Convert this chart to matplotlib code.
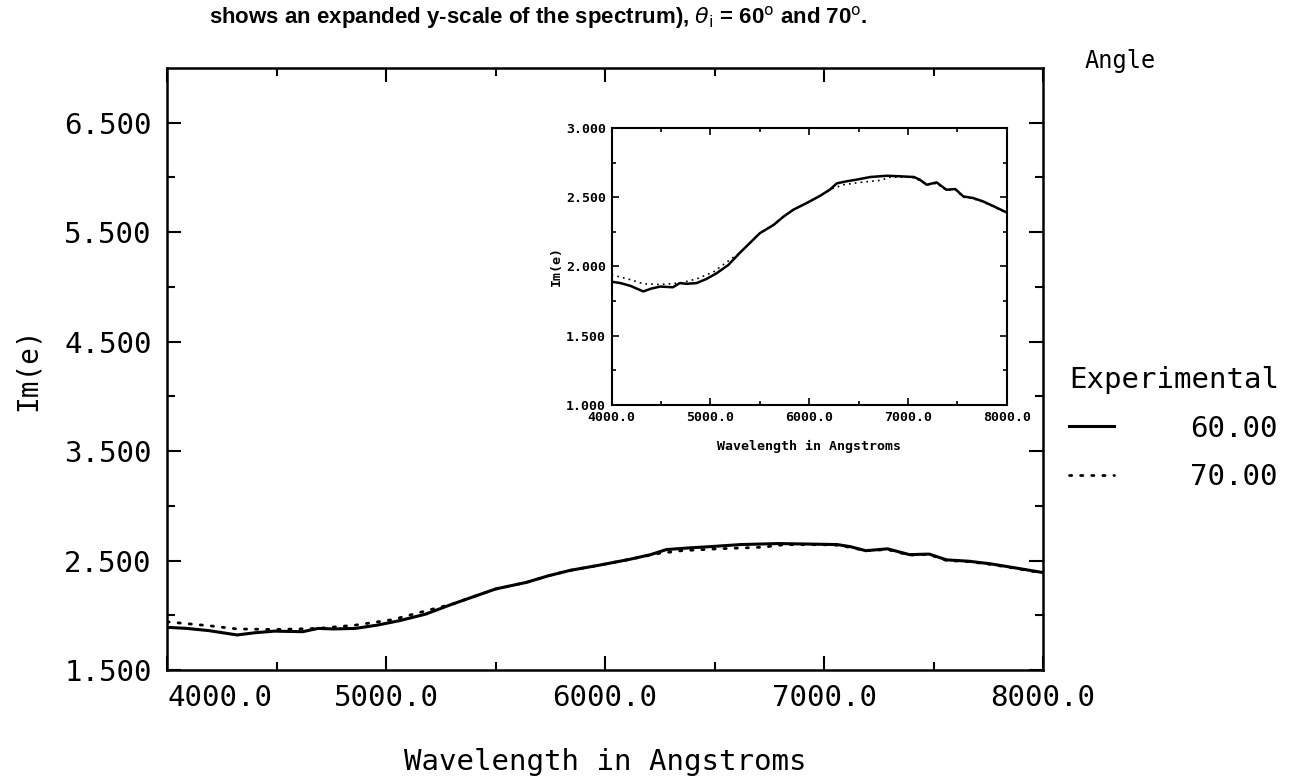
import matplotlib
matplotlib.use("Agg")
import matplotlib.pyplot as plt

# Dati (lunghezza d'onda in Angstrom, Im(e))
wl_60 = [4000, 4090, 4190, 4320, 4400, 4490, 4620, 4690, 4760, 4860, 4960, 5060,
         5180, 5300, 5400, 5500, 5640, 5740, 5840, 5980, 6110, 6210, 6280, 6380,
         6480, 6620, 6790, 6920, 7060, 7120, 7190, 7290, 7390, 7480, 7560, 7660,
         7760, 7870, 8000]
im_60 = [1.89, 1.88, 1.86, 1.82, 1.84, 1.855, 1.85, 1.88, 1.875, 1.88, 1.91, 1.95,
         2.01, 2.10, 2.17, 2.24, 2.30, 2.36, 2.41, 2.46, 2.51, 2.555, 2.60, 2.615,
         2.627, 2.646, 2.655, 2.651, 2.646, 2.627, 2.59, 2.607, 2.554, 2.559, 2.506,
         2.494, 2.47, 2.434, 2.39]

wl_70 = [4000, 4190, 4320, 4490, 4690, 4860, 5030, 5200, 5300, 5400, 5500, 5640,
         5740, 5840, 5980, 6110, 6245, 6350, 6515, 6720, 6820, 6990, 7060, 7120,
         7190, 7290, 7390, 7480, 7560, 7660, 7760, 7870, 8000]
im_70 = [1.94, 1.905, 1.875, 1.87, 1.88, 1.91, 1.96, 2.05, 2.10, 2.17, 2.24, 2.30,
         2.36, 2.41, 2.46, 2.51, 2.565, 2.59, 2.607, 2.622, 2.645, 2.645, 2.64, 2.62,
         2.59, 2.60, 2.55, 2.555, 2.50, 2.49, 2.465, 2.43, 2.385]

angles = ["60.00", "70.00"]

x_major = [4000, 5000, 6000, 7000, 8000]
x_labels = ["4000.0", "5000.0", "6000.0", "7000.0", "8000.0"]
x_minor = [4500, 5500, 6500, 7500]
y_major = [1.5, 2.5, 3.5, 4.5, 5.5, 6.5]
y_labels = ["1.500", "2.500", "3.500", "4.500", "5.500", "6.500"]
y_minor = [2.0, 3.0, 4.0, 5.0, 6.0]
yin_major = [1.0, 1.5, 2.0, 2.5, 3.0]
yin_labels = ["1.000", "1.500", "2.000", "2.500", "3.000"]
yin_minor = [1.25, 1.75, 2.25, 2.75]

plt.rcParams['font.family'] = ['DejaVu Sans Mono']

fig = plt.figure(figsize=(13.12, 7.76), dpi=100)

# Grafico principale
ax = fig.add_axes([0.1273, 0.1366, 0.6677, 0.7758])
ax.plot(wl_60, im_60, color='black', linewidth=2.2, solid_joinstyle='round')
ax.plot(wl_70, im_70, color='black', linewidth=2.0, linestyle=(0, (0.8, 3.2)),
        dash_capstyle='round')
ax.set_xlim(4000, 8000)
ax.set_ylim(1.5, 7.0)
ax.set_xticks(x_major, x_labels)
ax.set_xticks(x_minor, minor=True)
ax.set_yticks(y_major, y_labels)
ax.set_yticks(y_minor, minor=True)
ax.tick_params(which='both', direction='in', top=True, right=True, width=1.5)
ax.tick_params(which='major', length=10, labelsize=21)
ax.tick_params(which='minor', length=6)
ax.tick_params(axis='x', pad=10)
ax.tick_params(axis='y', pad=11)
ax.get_xticklabels()[0].set_ha('left')
for s in ax.spines.values():
    s.set_linewidth(1.8)
ax.set_xlabel('Wavelength in Angstroms', fontsize=21, labelpad=26)
ax.set_ylabel('Im(e)', fontsize=20, labelpad=16)

# Inserto con scala y espansa
axi = fig.add_axes([0.4662, 0.4781, 0.3011, 0.357])
axi.plot(wl_60, im_60, color='black', linewidth=1.8)
axi.plot(wl_70, im_70, color='black', linewidth=1.2, linestyle=(0, (1, 2.5)))
axi.set_xlim(4000, 8000)
axi.set_ylim(1.0, 3.0)
axi.set_xticks(x_major, x_labels)
axi.set_xticks(x_minor, minor=True)
axi.set_yticks(yin_major, yin_labels)
axi.set_yticks(yin_minor, minor=True)
axi.tick_params(which='both', direction='in', top=True, right=True, width=1.2)
axi.tick_params(which='major', length=5, labelsize=9.5, pad=4)
axi.tick_params(which='minor', length=3)
for lbl in axi.get_xticklabels() + axi.get_yticklabels():
    lbl.set_fontweight('bold')
for s in axi.spines.values():
    s.set_linewidth(1.5)
axi.set_xlabel('Wavelength in Angstroms', fontsize=9.5, fontweight='bold', labelpad=12)
axi.set_ylabel('Im(e)', fontsize=9.5, fontweight='bold', labelpad=2)

# Didascalia e legenda
fig.text(0.159, 0.977, 'shows an expanded y-scale of the spectrum), $\\theta_\\mathrm{i}$ = 60$^\\mathrm{o}$ and 70$^\\mathrm{o}$.',
         fontsize=16, fontweight='bold', family='Liberation Sans',
         ha='left', va='center')
fig.text(0.827, 0.922, 'Angle', fontsize=17, ha='left', va='center')

handles = ax.get_lines()
leg = fig.legend(handles, angles, title='Experimental', loc='upper left',
                 bbox_to_anchor=(0.815, 0.528), frameon=False, fontsize=21,
                 title_fontsize=21, alignment='left', handlelength=1.55,
                 handletextpad=2.6, labelspacing=0.7, borderpad=0, borderaxespad=0)

plt.savefig('out.png', dpi=100)
